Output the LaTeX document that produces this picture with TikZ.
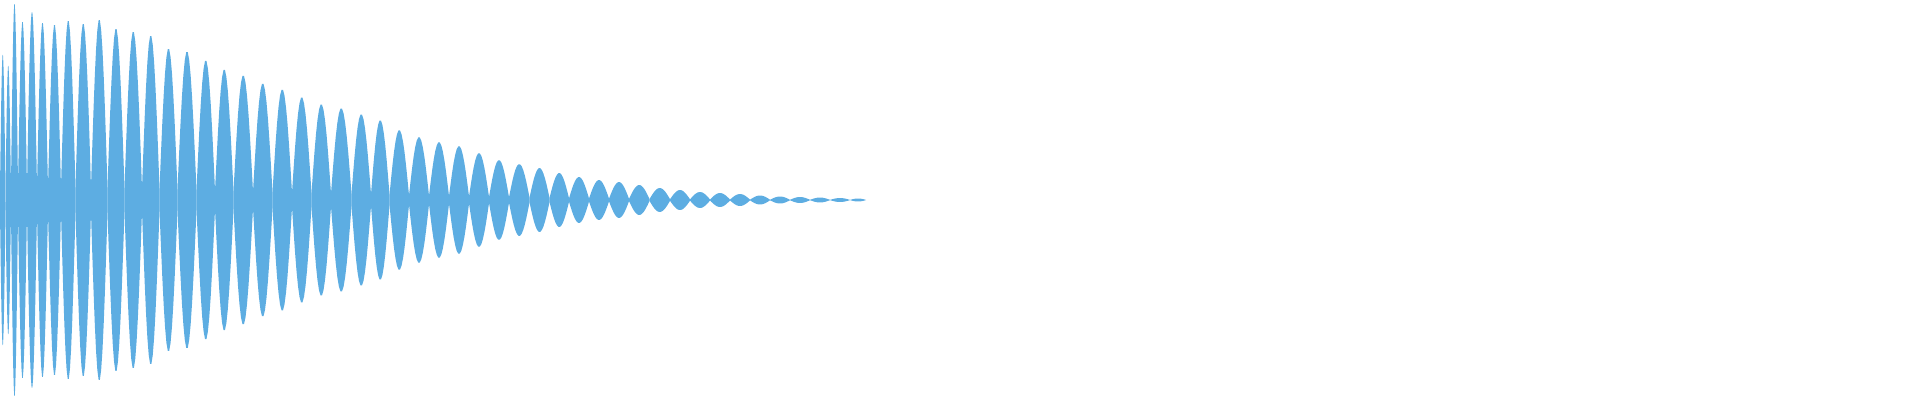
\documentclass[tikz,border=0pt]{standalone}
\definecolor{wave}{RGB}{93,173,226}
\begin{document}
\begin{tikzpicture}[x=1pt,y=-1pt,lobe/.style={fill=wave,draw=none}]
\useasboundingbox (0,0) rectangle (1920,400);
\foreach \a/\b/\h in {0/5.5/146,5.5/11/135,11/18/197,18/27/179,27/37/189,37/48/178,48/61/176,61/75.5/180,75.5/91/177,91/107.5/181,
107.5/124.5/172,124.5/142/169,142/159.5/165,159.5/177.5/152,177.5/196.5/149,196.5/215/140,215/233.5/131,233.5/253/125,253/272.5/117,272.5/292/111,
292/311.5/103,311.5/331/96,331/351.5/92,351.5/371/86,371/389.5/80,389.5/409/70,409/429/63,429/449/58,449/469/54,469/489/47,
489/509/40,509/529.5/36,529.5/549.5/32,549.5/569/27,569/589/23,589/609/20,609/629/18,629/649.5/15,649.5/670/12,670/690/10,
690/710/8,710/730/7,730/750/6,750/770/4.5,770/790/3.5,790/810/3,810/830/2.5,830/850/2,850/866/1.5}{
  \fill[lobe] plot[domain=\a:\b,samples=14,variable=\t] (\t,{200-(0.07*\h+0.93*\h*sin(180*(\t-\a)/(\b-\a)))})
    -- plot[domain=\b:\a,samples=14,variable=\t] (\t,{200+(0.07*\h+0.93*\h*sin(180*(\t-\a)/(\b-\a)))}) -- cycle;
}
\end{tikzpicture}
\end{document}
